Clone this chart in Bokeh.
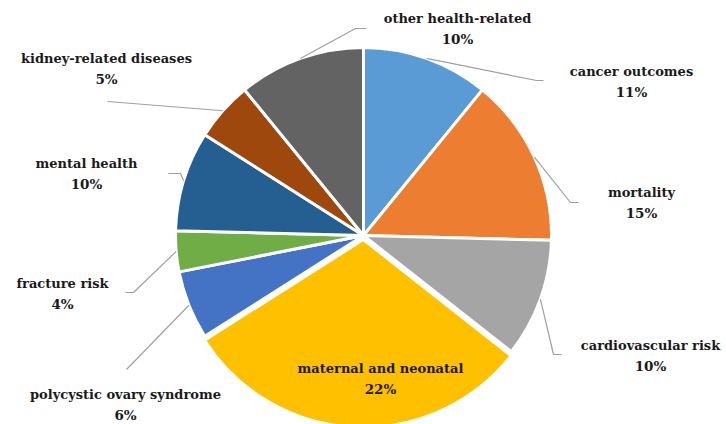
import math
from bokeh.plotting import figure
from bokeh.models import Range1d
from bokeh.core.properties import value
from bokeh.embed import file_html
from bokeh.resources import INLINE

# ---- data ----
categories = ["cancer outcomes", "mortality", "cardiovascular risk",
              "maternal and neonatal", "polycystic ovary syndrome",
              "fracture risk", "mental health", "kidney-related diseases",
              "other health-related"]
shares = [10.9, 14.5, 10.2, 30.4, 5.9, 3.5, 8.6, 5.1, 10.9]
pct_labels = ["11%", "15%", "10%", "22%", "6%", "4%", "10%", "5%", "10%"]
colors = ["#5B9BD5", "#ED7D31", "#A5A5A5", "#FFC000", "#4472C4",
          "#70AD47", "#255E91", "#9E480E", "#636363"]

# ---- layout (pixel coords, top-left origin) ----
W, H = 726, 424
CX, CY, R = 363, 235, 188
label_pos = [(631, 71), (641, 192), (650, 345), (380, 368), (125, 394),
             (62, 283), (86, 163), (106, 58), (457, 18)]
leader_pts = [[(536, 80), (543, 80)], [(570, 202), (578, 202)],
              [(553, 354), (561, 354)], None, [(126, 369)],
              [(133, 292), (125, 292)], [(180, 173), (168, 173)],
              [(107, 101)], [(355, 28), (366, 28)]]
explode = [0, 0, 0, 4, 0, 0, 0, 0, 0]

p = figure(width=W, height=H, output_backend="svg", toolbar_location=None,
           x_range=Range1d(0, W), y_range=Range1d(0, H), min_border=0)
p.axis.visible = False
p.grid.visible = False
p.outline_line_color = None
p.background_fill_color = "white"
p.border_fill_color = "white"

def fy(y):
    return H - y

total = sum(shares)
cum = 0.0
font = value("DejaVu Serif")
for i, s in enumerate(shares):
    a0 = cum / total * 2 * math.pi
    a1 = (cum + s) / total * 2 * math.pi
    mid = (a0 + a1) / 2
    cum += s
    ox = explode[i] * math.sin(mid)
    oy = explode[i] * math.cos(mid)
    p.wedge(x=CX + ox, y=fy(CY) + oy, radius=R,
            start_angle=math.pi / 2 - a1, end_angle=math.pi / 2 - a0,
            direction="anticlock", fill_color=colors[i],
            line_color="white", line_width=3)
    # leader line
    if leader_pts[i] is not None:
        sx = CX + R * math.sin(mid)
        sy = CY - R * math.cos(mid)
        xs = [sx] + [q[0] for q in leader_pts[i]]
        ys = [fy(sy)] + [fy(q[1]) for q in leader_pts[i]]
        p.line(xs, ys, line_color="#A0A0A0", line_width=1.2)
    lx, ly = label_pos[i]
    p.text(x=[lx], y=[fy(ly)], text=[categories[i]], text_align="center",
           text_baseline="middle", text_font=font, text_font_style="bold",
           text_font_size="13px", text_color="#1a1a1a")
    p.text(x=[lx], y=[fy(ly + 20)], text=[pct_labels[i]], text_align="center",
           text_baseline="middle", text_font=font, text_font_style="bold",
           text_font_size="13.5px", text_color="#1a1a1a")

open("out.html", "w").write(file_html(p, INLINE))
